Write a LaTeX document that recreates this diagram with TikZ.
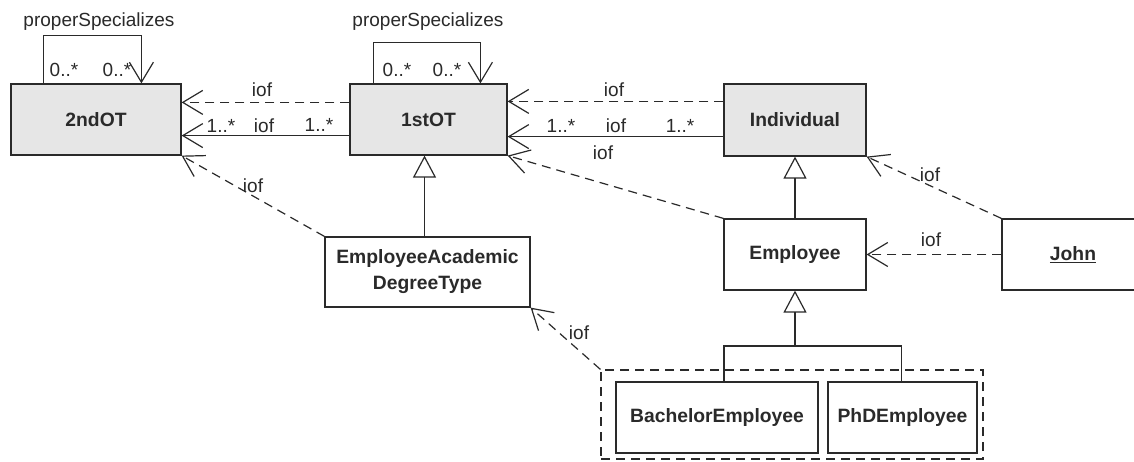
\documentclass[tikz,border=0pt]{standalone}
\usepackage{fontspec}
\setmainfont{Liberation Sans}
\usetikzlibrary{arrows.meta}
\definecolor{ink}{HTML}{2A2A2A}
\definecolor{boxgray}{HTML}{E6E6E6}
\begin{document}
\begin{tikzpicture}[x=1pt,y=-1pt,
  cls/.style={draw=ink, line width=1.2pt, minimum height=71pt, inner sep=0pt,
    font=\fontsize{19.3}{26}\selectfont\bfseries, text=ink, align=center},
  meta/.style={cls, fill=boxgray},
  lbl/.style={font=\fontsize{19}{21}\selectfont, text=ink, inner sep=0pt},
  dep/.style={draw=ink, line width=1.2pt, dash pattern=on 9pt off 6pt,
    -{Straight Barb[length=20pt,width=24pt]}},
  assoc/.style={draw=ink, line width=1.2pt, -{Straight Barb[length=20pt,width=24pt]}},
  gen/.style={draw=ink, line width=1.2pt, -{Triangle[open,length=22pt,width=23pt]}},
  plain/.style={draw=ink, line width=1.2pt},
  grpbox/.style={draw=ink, line width=1.2pt, dash pattern=on 9pt off 6pt, inner sep=0pt}
]
\useasboundingbox[fill=white] (0,0) rectangle (1134,461);

% classes
\node[meta, minimum width=170pt] (ot2) at (96,119.5) {2ndOT};
\node[meta, minimum width=157pt] (ot1) at (428.5,119.5) {1stOT};
\node[meta, minimum width=142pt, minimum height=72pt] (ind) at (795,120) {Individual};
\node[cls, minimum width=142pt] (emp) at (795,254.5) {Employee};
\node[cls, minimum width=142pt] (john) at (1073,254.5) {\underline{John}};
\node[cls, minimum width=205pt, minimum height=70pt] (ead) at (427.5,272) {EmployeeAcademic\\DegreeType};
\node[grpbox, minimum width=382pt, minimum height=89pt] (grp) at (792,414.5) {};
\node[cls, minimum width=202pt] (bach) at (717,417.5) {BachelorEmployee};
\node[cls, minimum width=149pt] (phd) at (902.5,417.5) {PhDEmployee};

% self loops
\draw[assoc] ([xshift=33pt]ot2.north west) -- ++(0,-48) -| ([xshift=131pt]ot2.north west);
\draw[assoc] ([xshift=24pt]ot1.north west) -- ++(0,-41) -| ([xshift=131pt]ot1.north west);

% iof links between levels
\draw[dep] ([yshift=-19pt]ot1.north west) -- ([yshift=-19pt]ot2.north east);
\draw[assoc] ([yshift=20pt]ot1.south west) -- ([yshift=20pt]ot2.south east);
\draw[dep] ([yshift=-18pt]ind.north west) -- ([yshift=-18pt]ot1.north east);
\draw[assoc] ([yshift=20pt]ind.south west) -- ([yshift=19pt]ot1.south east);

\draw[dep] (emp.north west) -- (ot1.south east);
\draw[dep] (john.north west) -- (ind.south east);
\draw[dep] (john.west) -- (emp.east);
\draw[dep] (ead.north west) -- (ot2.south east);
\draw[dep] (grp.north west) -- (ead.south east);

% generalizations
\draw[gen] ([xshift=-3pt]ead.north) -- ([xshift=-3pt]ead.north |- ot1.south);
\draw[gen] (emp.north) -- (ind.south);
\coordinate (j) at (795,346);
\draw[plain] ([xshift=7pt]bach.north) |- (j) -| ([xshift=-1pt]phd.north);
\draw[gen] (j) -- (emp.south);

% labels
\node[lbl] (ps2) at (99,22) {properSpecializes};
\node[lbl] (ps1) at (428,22) {properSpecializes};
\node[lbl] (m1) at (64,70) {0..*};
\node[lbl] (m2) at (117,70) {0..*};
\node[lbl] (m3) at (397,70) {0..*};
\node[lbl] (m4) at (447,70) {0..*};
\node[lbl] (l1) at (262,90) {iof};
\node[lbl] (m5) at (221,126) {1..*};
\node[lbl] (l2) at (264,126) {iof};
\node[lbl] (m6) at (319,125) {1..*};
\node[lbl] (l3) at (614,90) {iof};
\node[lbl] (m7) at (561,126) {1..*};
\node[lbl] (l4) at (616,126) {iof};
\node[lbl] (m8) at (680,126) {1..*};
\node[lbl] (l5) at (603,153) {iof};
\node[lbl] (l6) at (930,175) {iof};
\node[lbl] (l7) at (931,240) {iof};
\node[lbl] (l8) at (253,186) {iof};
\node[lbl] (l9) at (579,333) {iof};
\end{tikzpicture}
\end{document}
